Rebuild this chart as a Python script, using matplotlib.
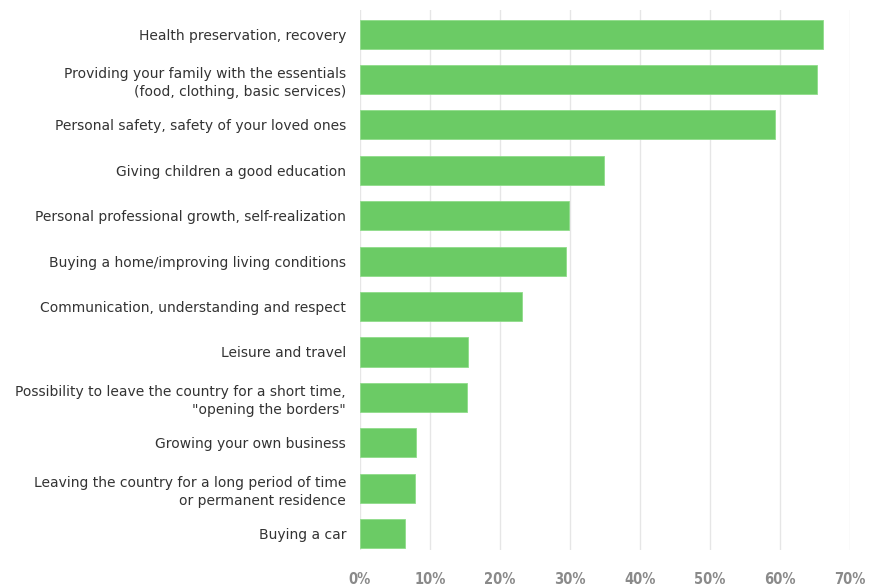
import matplotlib.pyplot as plt
import numpy as np

categories = [
    "Health preservation, recovery",
    "Providing your family with the essentials\n(food, clothing, basic services)",
    "Personal safety, safety of your loved ones",
    "Giving children a good education",
    "Personal professional growth, self-realization",
    "Buying a home/improving living conditions",
    "Communication, understanding and respect",
    "Leisure and travel",
    "Possibility to leave the country for a short time,\n\"opening the borders\"",
    "Growing your own business",
    "Leaving the country for a long period of time\nor permanent residence",
    "Buying a car",
]
values = [66.1, 65.3, 59.3, 34.8, 29.8, 29.5, 23.1, 15.5, 15.3, 8.0, 7.8, 6.5]
ticks = [0, 10, 20, 30, 40, 50, 60, 70]

fig = plt.figure(figsize=(8.79, 5.87), dpi=100)
ax = fig.add_axes([360 / 879, 1 - 550 / 587, (850 - 360) / 879, 540 / 587])

y = np.arange(len(categories))
ax.barh(y, values, height=0.64, color="#6bcb65", edgecolor="#8fdc8a", linewidth=0.6, zorder=3)

ax.set_xlim(0, 70)
ax.set_ylim(11.36, -0.53)
ax.set_yticks(y)
ax.set_yticklabels(categories, fontsize=10, color="#333333", family="DejaVu Sans", linespacing=1.35)
ax.set_xticks(ticks)
ax.set_xticklabels([f"{t}%" for t in ticks], fontsize=10.5, color="#8a8a8a",
                   fontweight="bold", fontstretch="condensed")
ax.tick_params(axis="y", length=0, pad=10)
ax.tick_params(axis="x", length=0, pad=16)
ax.grid(axis="x", color="#e6e6e6", linewidth=1, zorder=0)
for s in ax.spines.values():
    s.set_visible(False)

fig.savefig("out.png", dpi=100)
